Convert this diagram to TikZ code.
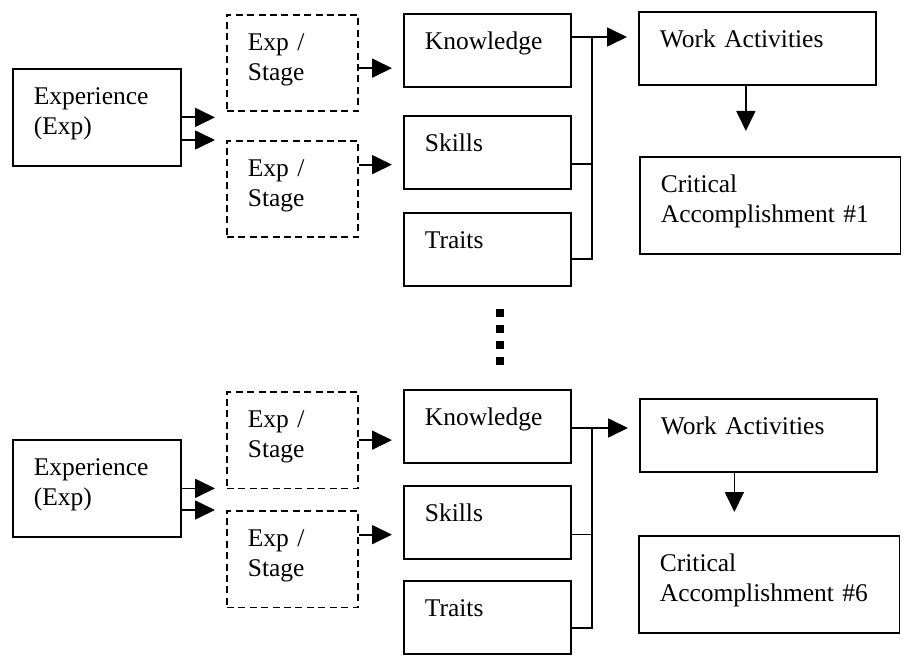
\documentclass[tikz,border=0pt]{standalone}
\usepackage{fontspec}
\setmainfont{Liberation Serif}
\usetikzlibrary{arrows.meta,positioning}

\begin{document}
\begin{tikzpicture}[
  font=\fontsize{14.5}{17}\selectfont,
  box/.style={draw, line width=1pt, anchor=north west, inner ysep=0pt, inner xsep=0.42cm, align=left, text height=0.71cm},
  expbox/.style={box, text width=2.52cm, text depth=1.23cm},
  stagebox/.style={box, dash pattern=on 4pt off 2.5pt, text width=1.78cm, text depth=1.22cm},
  itembox/.style={box, text width=2.50cm, text depth=0.75cm},
  workbox/.style={box, text width=3.90cm, text depth=0.75cm},
  critbox/.style={box, text width=4.37cm, text depth=1.23cm},
  arr/.style={line width=1pt, -{Triangle[length=0.4cm,width=0.38cm]}, shorten >=0.22cm},
  link/.style={line width=1pt}]
\useasboundingbox (0,0) rectangle (18.18,-13.14);

% first accomplishment
\node[expbox] (e1) at (0.24,-1.36) {Experience\\(Exp)};
\node[stagebox] (s1a) at (4.52,-0.28) {Exp /\\Stage};
\node[stagebox] (s1b) at (4.52,-2.80) {Exp /\\Stage};
\node[itembox] (k1) at (8.06,-0.26) {Knowledge};
\node[itembox] (sk1) at (8.06,-2.30) {Skills};
\node[itembox] (t1) at (8.06,-4.24) {Traits};
\node[workbox] (w1) at (12.76,-0.22) {Work Activities};
\node[critbox] (c1) at (12.78,-3.12) {Critical\\Accomplishment \#1};

\draw[arr] (e1.east) -- (e1.east -| s1a.west);
\draw[arr] (e1.east |- s1b.north) -- (s1b.north west);
\coordinate (a1) at ([yshift=-1mm]s1a.east);
\draw[arr] (a1) -- (a1 -| k1.west);
\coordinate (a2) at ([yshift=4.9mm]s1b.east);
\draw[arr] (a2) -- (a2 -| sk1.west);
\coordinate (j1) at (11.84,-0.74);
\draw[arr] (k1.east |- j1) -- (j1 -| w1.west);
\draw[link] ([yshift=-2.3mm]sk1.east) -| (j1);
\draw[link] ([yshift=-1.9mm]t1.east) -| (j1);
\coordinate (d1) at ([xshift=-2.3mm]w1.south);
\draw[arr, shorten >=0.5cm] (d1) -- (d1 |- c1.north);

% dots
\foreach \i in {0,...,3}
  \fill (9.92,{-6.18-0.32*\i}) rectangle ++(0.16,-0.16);

% sixth accomplishment
\node[expbox] (e2) at (0.24,-8.78) {Experience\\(Exp)};
\node[stagebox] (s2a) at (4.52,-7.82) {Exp /\\Stage};
\node[stagebox] (s2b) at (4.52,-10.20) {Exp /\\Stage};
\node[itembox] (k2) at (8.06,-7.78) {Knowledge};
\node[itembox] (sk2) at (8.06,-9.70) {Skills};
\node[itembox] (t2) at (8.06,-11.60) {Traits};
\node[workbox] (w2) at (12.78,-7.96) {Work Activities};
\node[critbox] (c2) at (12.76,-10.70) {Critical\\Accomplishment \#6};

\draw[arr] (e2.east) -- (e2.east -| s2a.west);
\draw[arr] (e2.east |- s2b.north) -- (s2b.north west);
\draw[arr] (s2a.east) -- (s2a.east -| k2.west);
\coordinate (a4) at ([yshift=4.9mm]s2b.east);
\draw[arr] (a4) -- (a4 -| sk2.west);
\coordinate (j2) at (11.84,-8.56);
\draw[arr] (k2.east |- j2) -- (j2 -| w2.west);
\draw[link] ([yshift=-2.4mm]sk2.east) -| (j2);
\draw[link] ([yshift=-2.1mm]t2.east) -| (j2);
\coordinate (d2) at ([xshift=-4.8mm]w2.south);
\draw[arr, shorten >=0.46cm] (d2) -- (d2 |- c2.north);
\end{tikzpicture}
\end{document}
